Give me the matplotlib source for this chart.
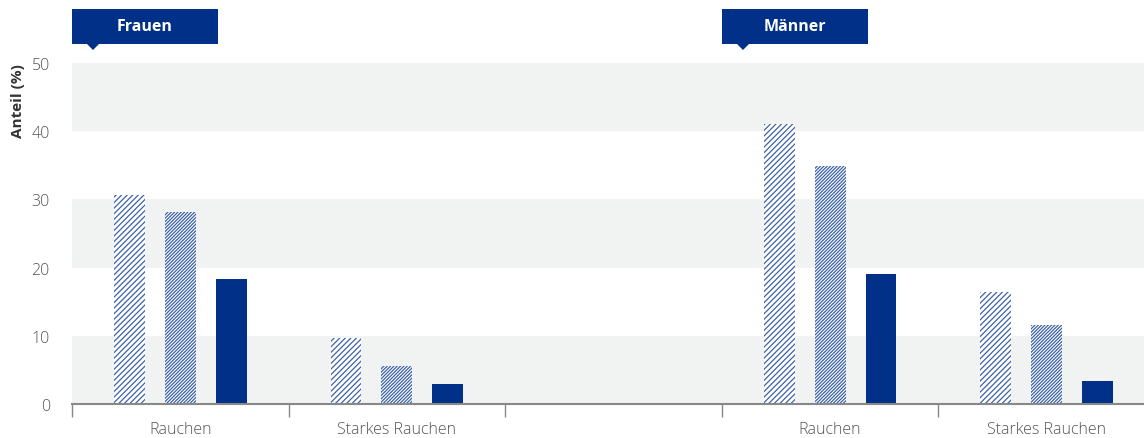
import numpy as np
import matplotlib.pyplot as plt
from matplotlib.patches import Rectangle, Polygon

# data
panels = ['Frauen', 'Männer']
categories = ['Rauchen', 'Starkes Rauchen', '', 'Rauchen', 'Starkes Rauchen']
serie_a = [30.6, 9.7, np.nan, 41.0, 16.4]   # sparse hatch
serie_b = [28.1, 5.6, np.nan, 34.9, 11.6]   # dense hatch
serie_c = [18.3, 2.9, np.nan, 19.1, 3.4]    # solid
yticks = [0, 10, 20, 30, 40, 50]

navy = '#003087'
hatchblue = '#3d62a8'
grey_txt = '#555555'

plt.rcParams['font.family'] = ['Open Sans', 'DejaVu Sans']
plt.rcParams['hatch.linewidth'] = 0.9

W, H = 1144, 439
fig = plt.figure(figsize=(W / 100, H / 100), dpi=100)
ax = fig.add_axes([72 / W, (H - 405) / H, 1 - 72 / W, 341 / H])

x = np.arange(len(categories))
off = 0.235
bw = 0.143

# alternating bands
for lo in (0, 20, 40):
    ax.axhspan(lo, lo + 10, color='#f1f2f2', zorder=0, lw=0)

ax.bar(x - off, serie_a, bw, facecolor='white', edgecolor=hatchblue, hatch='//////', lw=0, zorder=2)
ax.bar(x, serie_b, bw, facecolor='white', edgecolor=hatchblue, hatch='//////////', lw=0, zorder=2)
ax.bar(x + off, serie_c, bw, color=navy, lw=0, zorder=2)

ax.set_xlim(-0.5, -0.5 + (W - 72) / 216.6)
ax.set_ylim(0, 50)
ax.set_yticks(yticks)
ax.set_xticks(x[[0, 1, 3, 4]])
ax.set_xticklabels([categories[i] for i in (0, 1, 3, 4)])
ax.set_xticks(np.arange(-0.5, 4, 1), minor=True)
ax.tick_params(axis='x', which='major', length=0, pad=12, labelsize=11.5, labelcolor=grey_txt)
ax.tick_params(axis='x', which='minor', length=9, width=1, color='#888888')
ax.tick_params(axis='y', length=0, pad=16, labelsize=11.5, labelcolor=grey_txt)
for t in ax.get_yticklabels():
    t.set_fontweight('light')
for t in ax.get_xticklabels():
    t.set_fontweight('light')

for s in ('top', 'right', 'left'):
    ax.spines[s].set_visible(False)
ax.spines['bottom'].set_color('#888888')
ax.spines['bottom'].set_linewidth(1.5)
ax.spines['bottom'].set_zorder(3)

ax.set_ylabel('Anteil (%)', fontsize=11, fontweight='bold', color='#333333')
ax.yaxis.set_label_coords(-47 / (W - 72), 0.89)

# panel headers
for name, x0 in zip(panels, (72, 722)):
    fig.patches.append(Rectangle((x0 / W, (H - 45) / H), 146 / W, 35 / H,
                                 transform=fig.transFigure, color=navy, lw=0))
    fig.patches.append(Polygon([((x0 + 15) / W, (H - 45) / H), ((x0 + 27) / W, (H - 45) / H),
                                ((x0 + 21) / W, (H - 51) / H)], closed=True,
                               transform=fig.transFigure, color=navy, lw=0))
    fig.text((x0 + 73) / W, (H - 27) / H, name, color='white', fontsize=11.5,
             fontweight='bold', ha='center', va='center')

fig.savefig('out.png', dpi=100)
